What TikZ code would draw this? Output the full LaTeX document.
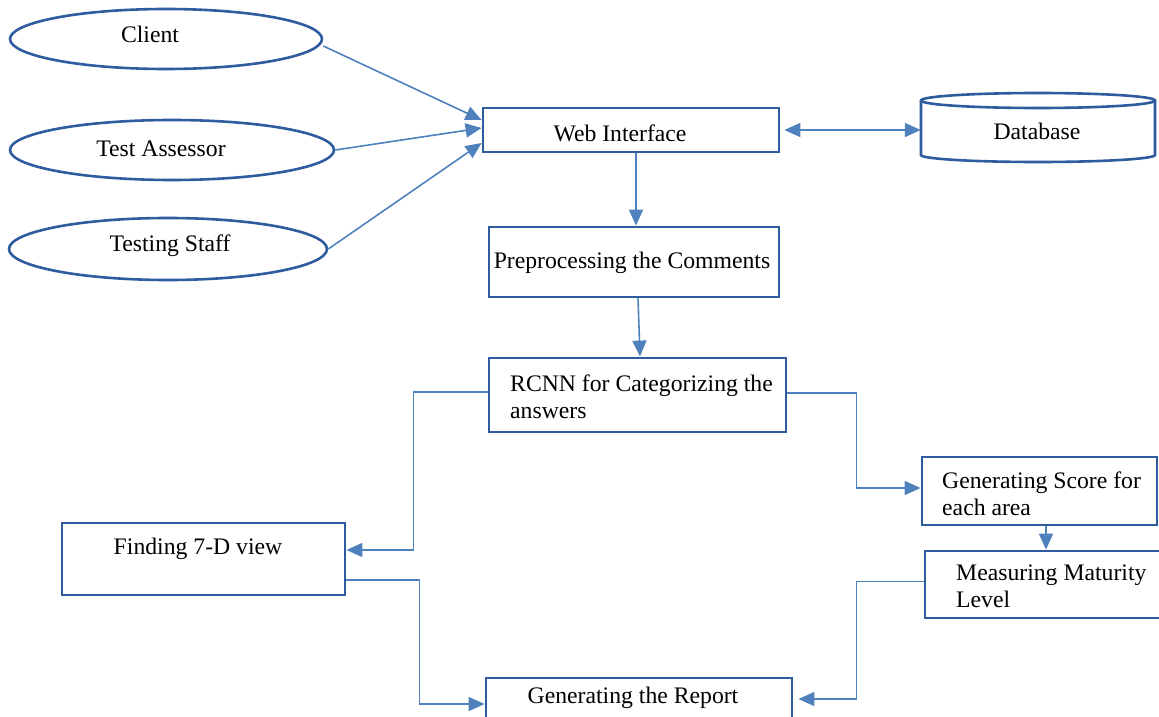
\documentclass[tikz,border=0pt]{standalone}
\usepackage{fontspec}
\setmainfont{Liberation Serif}
\usetikzlibrary{arrows.meta,shapes.geometric}
\definecolor{boxblue}{RGB}{46,92,158}
\definecolor{linkblue}{RGB}{79,129,189}

\begin{document}
\begin{tikzpicture}[x=1pt,y=-1pt,
  font=\fontsize{23.7}{27}\selectfont,
  box/.style={draw=boxblue, line width=2.8pt, rectangle, inner sep=0pt},
  actor/.style={draw=boxblue, line width=2.6pt, ellipse, inner sep=0pt},
  txt/.style={inner sep=0pt},
  multi/.style={inner sep=0pt, anchor=north west, align=left},
  dbline/.style={draw=boxblue, line width=2.6pt},
  link/.style={draw=linkblue, line width=1.6pt, -{Triangle[length=16pt,width=14pt]}},
]
\useasboundingbox (0,0) rectangle (1159,717);

% actors
\node[actor, minimum width=312, minimum height=60] (client) at (166,39) {};
\node[actor, minimum width=324, minimum height=60] (assessor) at (172,150) {};
\node[actor, minimum width=318, minimum height=62] (staff) at (168,249) {};
\node[txt] (tclient) at (150,34) {Client};
\node[txt] (tassessor) at (161,149) {Test Assessor};
\node[txt] (tstaff) at (170,246) {Testing Staff};

% process boxes
\node[box, minimum width=296, minimum height=44] (web) at (631,130) {};
\node[box, minimum width=290, minimum height=70] (prep) at (634,262) {};
\node[box, minimum width=297, minimum height=74] (rcnn) at (637.5,395) {};
\node[box, minimum width=283, minimum height=72] (finding) at (203.5,559) {};
\node[box, minimum width=306, minimum height=82] (report) at (639,719) {};
\node[box, minimum width=235, minimum height=68] (score) at (1039.5,491) {};
\node[box, minimum width=255, minimum height=67] (measure) at (1052.5,584.5) {};

\node[txt] (tweb) at (620,133) {Web Interface};
\node[txt] (tprep) at (632,263) {Preprocessing the Comments};
\node[multi] (trcnn) at (510,375) {RCNN for Categorizing the\\answers};
\node[txt] (tfinding) at (198,549) {Finding 7-D view};
\node[txt] (treport) at (633,698) {Generating the Report};
\node[multi] (tscore) at (942,472) {Generating Score for\\each area};
\node[multi] (tmeasure) at (956,565) {Measuring Maturity\\Level};

% database cylinder
\node[inner sep=0pt, minimum width=234, minimum height=70] (db) at (1038,128) {};
\draw[dbline] (1038,100.5) ellipse [x radius=117pt, y radius=7.5pt];
\draw[dbline] (921,100.5) -- (921,155)
  arc[start angle=180, end angle=360, x radius=117pt, y radius=7pt] -- (1155,100.5);
\node[txt] (tdb) at (1037,131) {Database};

% connectors
\draw[link] ([yshift=-7pt]client.east) -- ([yshift=10pt]web.west);
\draw[link] (assessor.east) -- ([yshift=2pt]web.west);
\draw[link] (staff.east) -- ([yshift=-13pt]web.west);
\draw[link, {Triangle[length=16pt,width=14pt]}-{Triangle[length=16pt,width=14pt]}, shorten <=4pt]
  (web.east) -- (web.east -| db.west);
\draw[link] ([xshift=5pt]web.south) -- ([xshift=2pt]prep.north);
\draw[link] ([xshift=4pt]prep.south) -- ([xshift=2.5pt]rcnn.north);
\draw[link] ([yshift=3pt]rcnn.west) -- ++(-74,0) |- ([yshift=9pt]finding.east);
\draw[link] ([yshift=-21pt]finding.east) -- ++(73,0) |- ([yshift=15pt]report.west);
\draw[link] ([yshift=2pt]rcnn.east) -- ++(69,0) |- ([yshift=3pt]score.west);
\draw[link] ([xshift=6.5pt]score.south) -- ([xshift=6.5pt]score.south |- measure.north);
\draw[link, shorten >=5pt] ([yshift=3pt]measure.west) -- ++(-67,0) |- ([yshift=20pt]report.east);
\end{tikzpicture}
\end{document}
